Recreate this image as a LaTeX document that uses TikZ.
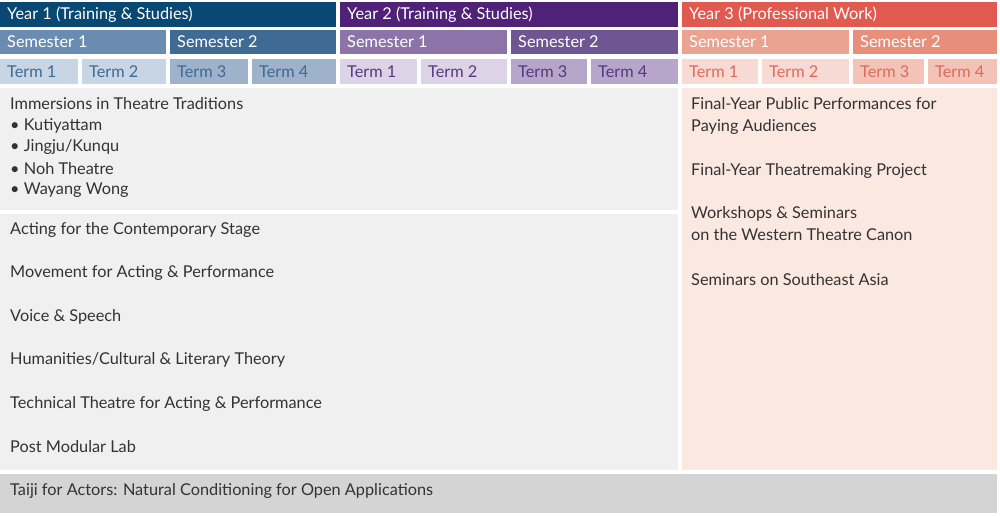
\documentclass[tikz,border=0pt]{standalone}
\usepackage{fontspec}
\setmainfont{Lato}
\definecolor{yaA}{HTML}{084873}
\definecolor{saA}{HTML}{6A8CB0}
\definecolor{sbA}{HTML}{3F6A93}
\definecolor{taA}{HTML}{C8D5E4}
\definecolor{tbA}{HTML}{9FB2CC}
\definecolor{yaB}{HTML}{4F2277}
\definecolor{saB}{HTML}{8C74A8}
\definecolor{sbB}{HTML}{6F5592}
\definecolor{taB}{HTML}{DDD3E6}
\definecolor{tbB}{HTML}{B5A6CA}
\definecolor{txB}{HTML}{5A3880}
\definecolor{yaC}{HTML}{E05A50}
\definecolor{saC}{HTML}{EBA391}
\definecolor{sbC}{HTML}{E88F7C}
\definecolor{taC}{HTML}{F7DAD3}
\definecolor{tbC}{HTML}{F3C3B8}
\definecolor{txC}{HTML}{E06A5A}
\definecolor{leftbg}{HTML}{F0F0F0}
\definecolor{rightbg}{HTML}{FBE8E1}
\definecolor{footbg}{HTML}{D4D4D4}
\definecolor{body}{HTML}{333333}
\tikzset{
  lbl/.style={anchor=west,inner sep=0pt,font=\fontsize{16.3}{18}\selectfont},
  txt/.style={lbl,text=body,align=left}
}
\begin{document}
\begin{tikzpicture}[x=1pt,y=-1pt]
\useasboundingbox (0,0) rectangle (1000,515);
\fill[white] (0,0) rectangle (1000,515);
% header: years, semesters, terms
\foreach \c/\x/\w/\s/\tx/\ya/\yb/\yc/\yd/\t in {%
  A/0/336/170/sbA/252/82/170/252/Year 1 (Training \& Studies),
  B/340/338/511/txB/591/421/511/591/Year 2 (Training \& Studies),
  C/682/315/853/txC/928/762/853/928/Year 3 (Professional Work)}{
  \fill[ya\c] (\x,2) rectangle ++(\w,25);
  \node[lbl,text=white] (year\c) at (\x+7,14.5) {\t};
  \fill[sa\c] (\x,30) rectangle (\s-4,54);
  \fill[sb\c] (\s,30) rectangle (\x+\w,54);
  \node[lbl,text=white] (semA\c) at (\x+7,42) {Semester 1};
  \node[lbl,text=white] (semB\c) at (\s+7,42) {Semester 2};
  \fill[ta\c] (\x,59) rectangle (\yb-4,84);
  \fill[ta\c] (\yb,59) rectangle (\s-4,84);
  \fill[tb\c] (\s,59) rectangle (\yd-4,84);
  \fill[tb\c] (\yd,59) rectangle (\x+\w,84);
  \node[lbl,text=\tx] (termA\c) at (\x+7,71.5) {Term 1};
  \node[lbl,text=\tx] (termB\c) at (\yb+7,71.5) {Term 2};
  \node[lbl,text=\tx] (termC\c) at (\s+7,71.5) {Term 3};
  \node[lbl,text=\tx] (termD\c) at (\yd+7,71.5) {Term 4};
}
% content blocks
\fill[leftbg] (0,88) rectangle (678,210);
\fill[leftbg] (0,214) rectangle (678,470);
\fill[rightbg] (682,88) rectangle (997,470);
\fill[footbg] (0,474) rectangle (997,513);
% left top
\node[txt] (immersion) at (10,104) {Immersions in Theatre Traditions};
\foreach \n/\t [count=\i] in {kutiyattam/Kutiyattam,jingju/{Jingju/Kunqu},noh/Noh Theatre,wayang/Wayang Wong}
  \node[txt] (\n) at (10,104+21.6*\i) {\textbullet\ \t};
% left bottom
\foreach \n/\t [count=\i from 0] in {acting/Acting for the Contemporary Stage,
  movement/Movement for Acting \& Performance,voice/Voice \& Speech,
  humanities/{Humanities/Cultural \& Literary Theory},
  technical/Technical Theatre for Acting \& Performance,lab/Post Modular Lab}
  \node[txt] (\n) at (10,230+43.4*\i) {\t};
% right
\node[txt,anchor=north west] (public) at (691,97) {Final-Year Public Performances for\\[4pt]Paying Audiences};
\node[txt] (project) at (691,171) {Final-Year Theatremaking Project};
\node[txt,anchor=north west] (workshops) at (691,206) {Workshops \& Seminars\\[4pt]on the Western Theatre Canon};
\node[txt] (seasia) at (691,280) {Seminars on Southeast Asia};
% footer
\node[txt] (taiji) at (10,491) {Taiji for Actors: Natural Conditioning for Open Applications};
\end{tikzpicture}
\end{document}
